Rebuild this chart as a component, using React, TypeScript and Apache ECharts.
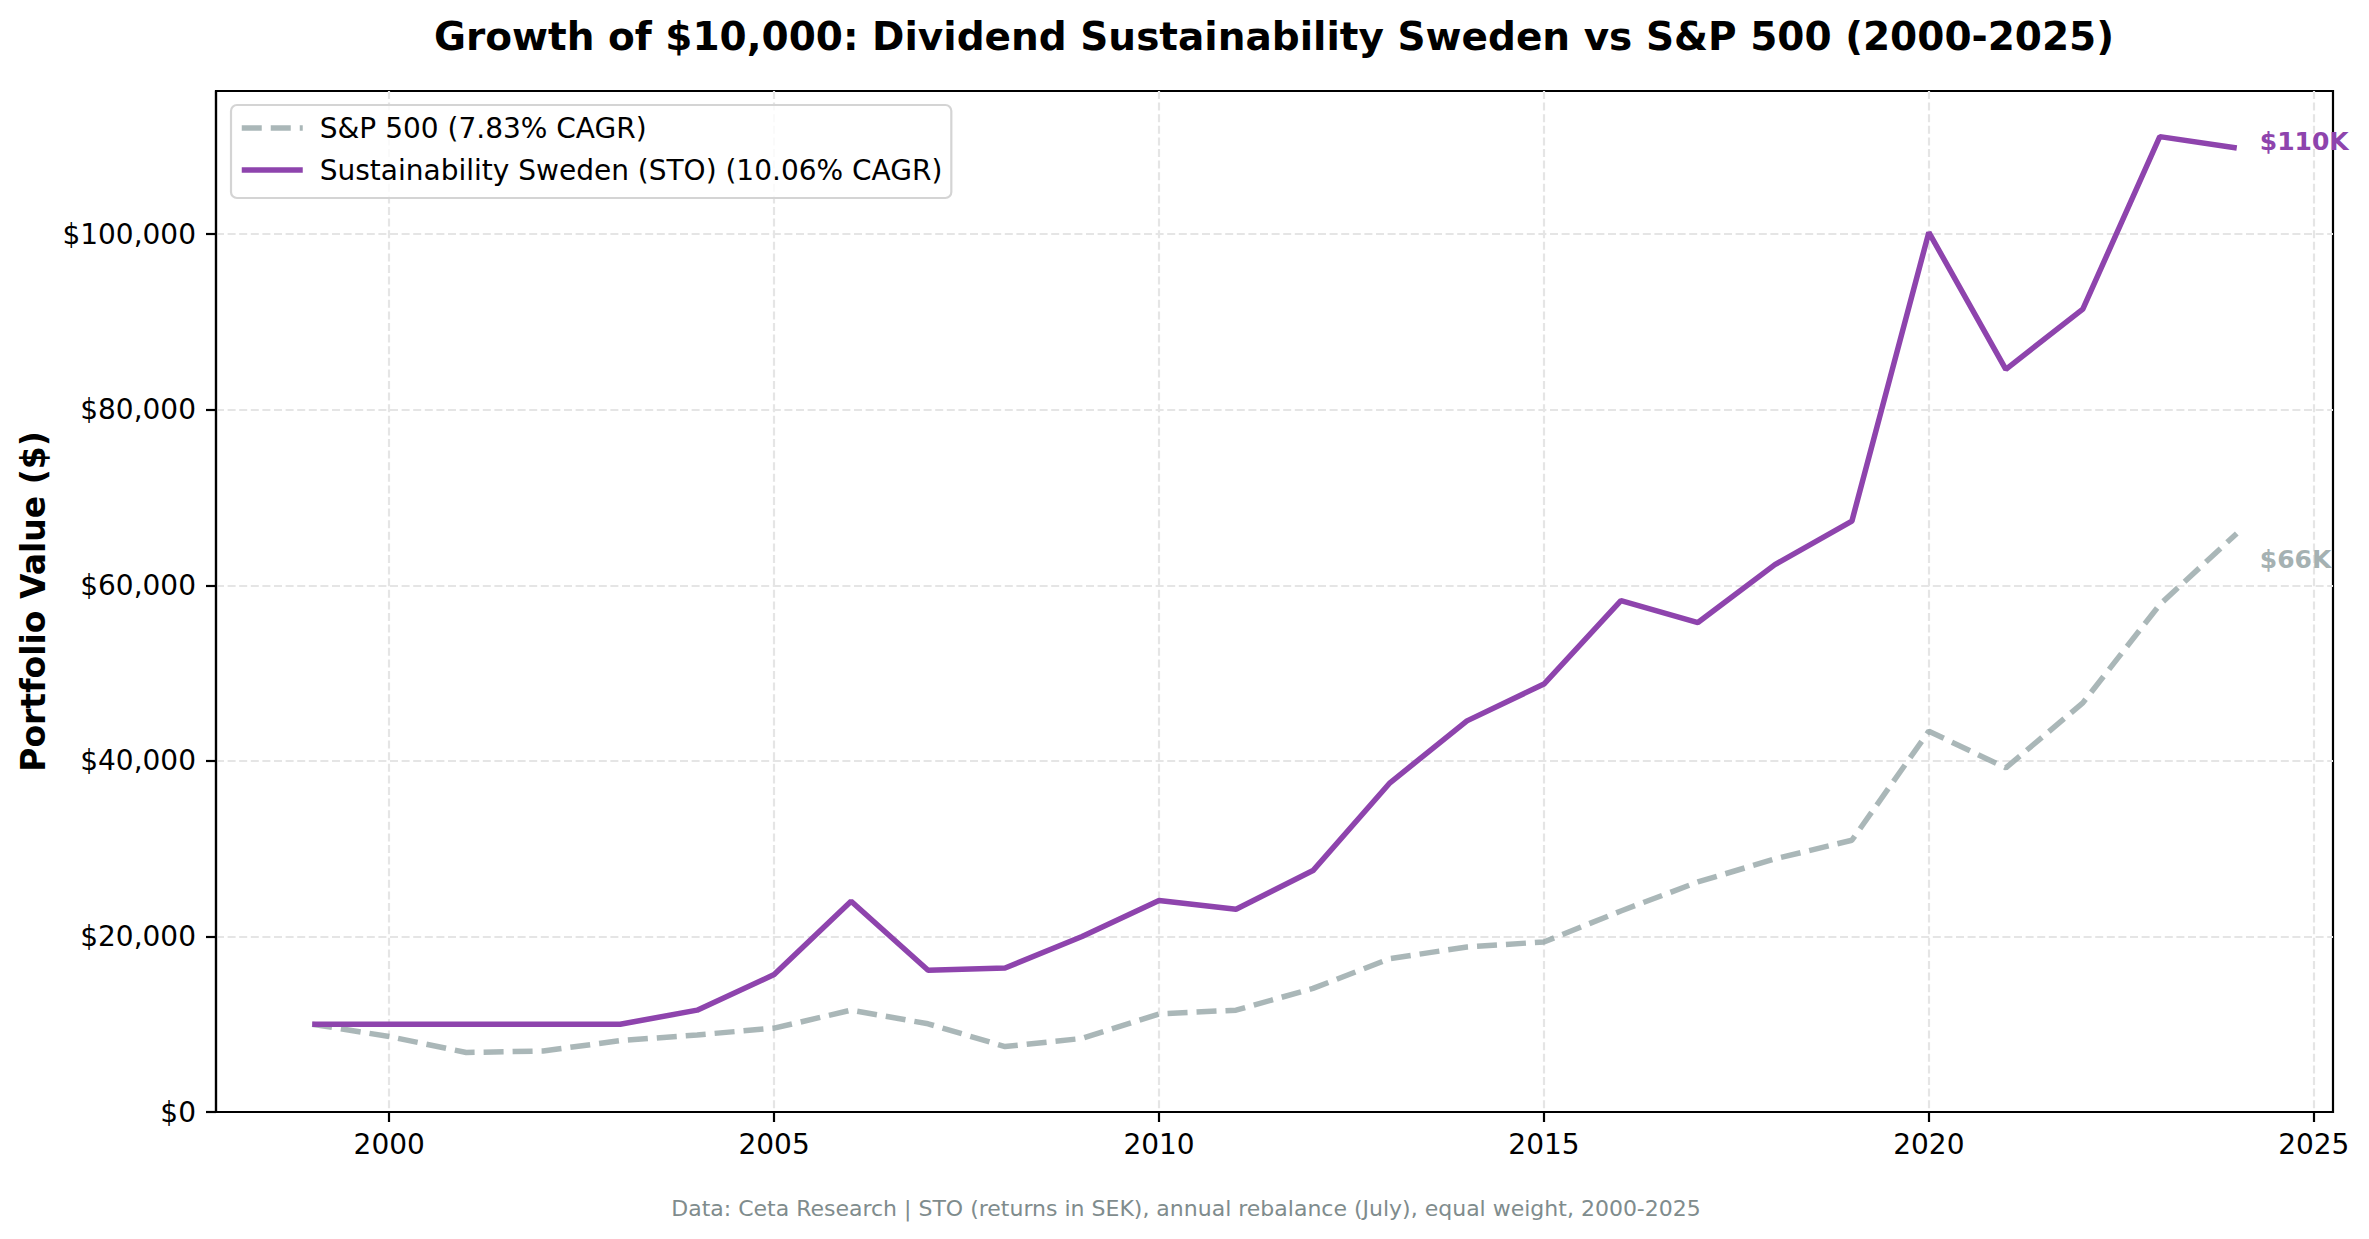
import React, { useEffect, useRef } from 'react';
import * as echarts from 'echarts';

// Year-end portfolio values, starting from $10,000
const years = [
  1999, 2000, 2001, 2002, 2003, 2004, 2005, 2006, 2007, 2008, 2009, 2010, 2011,
  2012, 2013, 2014, 2015, 2016, 2017, 2018, 2019, 2020, 2021, 2022, 2023, 2024
];
const stoValues = [
  10000, 10000, 10000, 10000, 10000, 11600, 15650, 24000, 16150, 16400, 20000, 24100, 23100,
  27500, 37500, 44550, 48750, 58250, 55750, 62350, 67300, 100200, 84600, 91450, 111100, 109800
];
const spxValues = [
  10000, 8600, 6780, 6950, 8130, 8780, 9550, 11600, 10050, 7450, 8380, 11170, 11600,
  14080, 17470, 18800, 19370, 22900, 26200, 28830, 30950, 43380, 39200, 46600, 57800, 65900
];
const xTicks = [2000, 2005, 2010, 2015, 2020, 2025];
const yTicks = [0, 20000, 40000, 60000, 80000, 100000];

const seriesNames = ['S&P 500 (7.83% CAGR)', 'Sustainability Sweden (STO) (10.06% CAGR)'];
const endLabels = ['$66K', '$110K'];

const PURPLE = '#8e44ad';
const GRAY = '#95a5a6';
const FONT = 'DejaVu Sans';

const App: React.FC = () => {
  const chartRef = useRef<HTMLDivElement>(null);

  useEffect(() => {
    if (!chartRef.current) return;
    document.body.style.margin = '0';
    document.body.style.overflow = 'hidden';

    const chart = echarts.init(chartRef.current, null, { renderer: 'svg' });

    const gridLine = { show: true, lineStyle: { color: '#e5e5e5', type: [8, 3.6], width: 2.2 } };
    const spxLine = { color: GRAY, width: 5.5, type: [20, 9], opacity: 0.8 };
    const stoLine = { color: PURPLE, width: 5.5, type: 'solid' };

    const option = {
      animation: false,
      backgroundColor: '#ffffff',
      textStyle: { fontFamily: FONT },
      grid: {
        left: 216,
        right: 36,
        top: 91,
        bottom: 127,
        containLabel: false,
        outerBoundsMode: 'none',
        show: true,
        borderColor: '#000',
        borderWidth: 2.2,
        backgroundColor: 'transparent'
      },
      legend: {
        data: [
          { name: seriesNames[0], itemStyle: { opacity: 0 }, lineStyle: spxLine },
          { name: seriesNames[1], itemStyle: { opacity: 0 }, lineStyle: stoLine }
        ],
        orient: 'vertical',
        left: 231,
        top: 105,
        itemWidth: 61,
        itemHeight: 14,
        itemGap: 14,
        padding: [9, 9, 14, 8],
        backgroundColor: 'rgba(255,255,255,0.8)',
        borderColor: '#d4d4d4',
        borderWidth: 2.2,
        borderRadius: 6,
        textStyle: {
          fontSize: 28,
          lineHeight: 28,
          color: '#000',
          fontFamily: FONT,
          padding: [0, 0, 0, 12]
        }
      },
      xAxis: {
        type: 'value',
        min: 1997.75,
        max: 2025.25,
        axisLine: { show: true, onZero: false, lineStyle: { color: '#000', width: 2.2 } },
        axisTick: { show: true, length: 10, lineStyle: { color: '#000', width: 2.2 }, customValues: xTicks },
        axisLabel: {
          customValues: xTicks,
          fontSize: 28,
          color: '#000',
          margin: 18,
          fontFamily: FONT,
          formatter: (v: number) => String(v)
        },
        splitLine: gridLine
      },
      yAxis: {
        type: 'value',
        min: 0,
        max: 116300,
        name: 'Portfolio Value ($)',
        nameLocation: 'middle',
        nameGap: 166,
        nameTextStyle: { fontSize: 33, fontWeight: 'bold', color: '#000', fontFamily: FONT },
        axisLine: { show: true, lineStyle: { color: '#000', width: 2.2 } },
        axisTick: { show: true, length: 10, lineStyle: { color: '#000', width: 2.2 }, customValues: yTicks },
        axisLabel: {
          customValues: yTicks,
          fontSize: 28,
          color: '#000',
          margin: 20,
          fontFamily: FONT,
          formatter: (v: number) => '$' + v.toLocaleString('en-US')
        },
        splitLine: gridLine
      },
      series: [
        {
          name: seriesNames[0],
          type: 'line',
          data: years.map((y, i) => [y, spxValues[i]]),
          symbol: 'none',
          lineStyle: spxLine,
          itemStyle: { color: GRAY, opacity: 0.8 },
          endLabel: {
            show: true,
            formatter: endLabels[0],
            color: '#a5b1b2',
            fontWeight: 'bold',
            fontSize: 25,
            fontFamily: FONT,
            distance: 23,
            offset: [0, 26]
          },
          z: 2
        },
        {
          name: seriesNames[1],
          type: 'line',
          data: years.map((y, i) => [y, stoValues[i]]),
          symbol: 'none',
          lineStyle: stoLine,
          itemStyle: { color: PURPLE },
          endLabel: {
            show: true,
            formatter: endLabels[1],
            color: PURPLE,
            fontWeight: 'bold',
            fontSize: 25,
            fontFamily: FONT,
            distance: 23,
            offset: [0, -7]
          },
          z: 3
        }
      ],
      graphic: [
        {
          type: 'text',
          x: 1274,
          y: 36,
          style: {
            text: 'Growth of $10,000: Dividend Sustainability Sweden vs S&P 500 (2000-2025)',
            fontSize: 39,
            fontWeight: 'bold',
            fontFamily: FONT,
            fill: '#000',
            align: 'center',
            verticalAlign: 'middle'
          }
        },
        {
          type: 'text',
          x: 1186,
          y: 1208,
          style: {
            text: 'Data: Ceta Research | STO (returns in SEK), annual rebalance (July), equal weight, 2000-2025',
            fontSize: 22,
            fontFamily: FONT,
            fill: '#7f8c8d',
            align: 'center',
            verticalAlign: 'middle'
          }
        }
      ]
    };

    chart.setOption(option as any);

    return () => {
      chart.dispose();
    };
  }, []);

  return <div ref={chartRef} style={{ width: 2369, height: 1239 }} />;
};

export default App;
